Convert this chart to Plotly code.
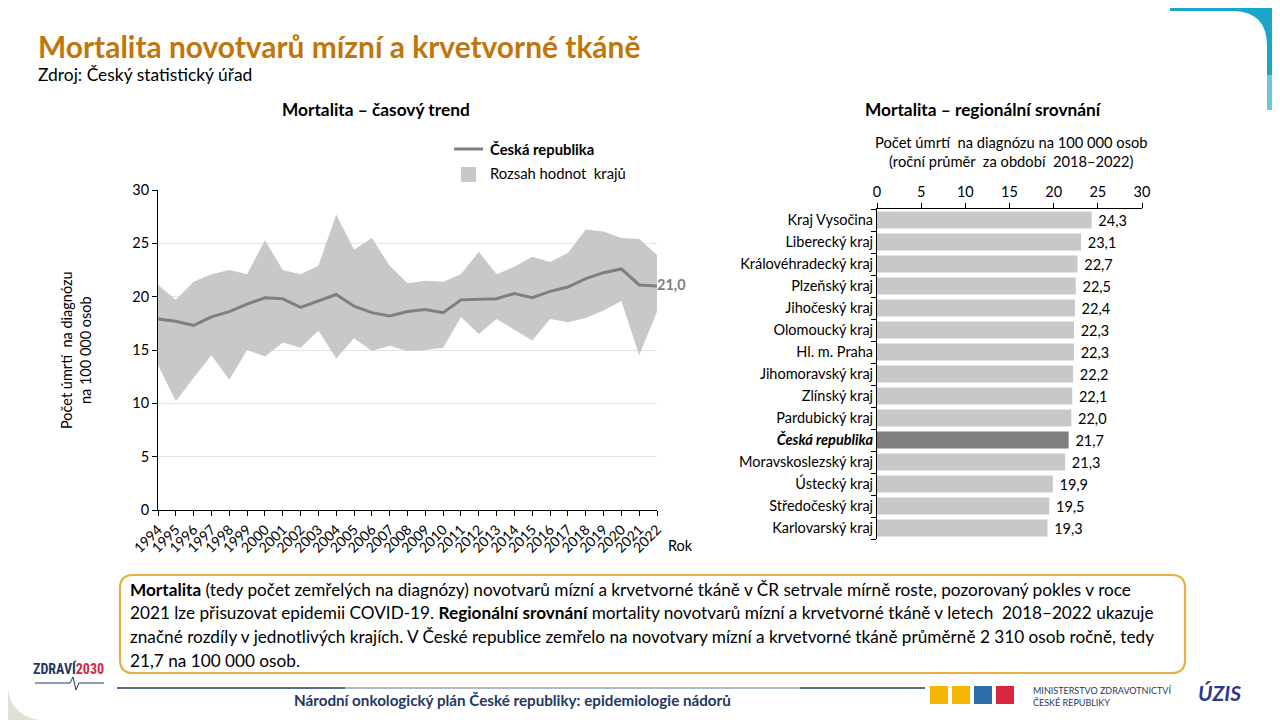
import plotly.graph_objects as go

# ---------------- data ----------------
years = list(range(1994, 2023))
cr_rate = [17.9, 17.7, 17.3, 18.1, 18.6, 19.3, 19.9, 19.8, 19.0, 19.6, 20.2, 19.1, 18.5, 18.2,
           18.6, 18.8, 18.5, 19.7, 19.75, 19.8, 20.3, 19.9, 20.5, 20.9, 21.7, 22.25, 22.6, 21.1, 21.0]
region_max = [21.1, 19.7, 21.4, 22.1, 22.5, 22.1, 25.3, 22.5, 22.1, 22.9, 27.7, 24.4, 25.5, 22.9,
              21.25, 21.5, 21.4, 22.1, 24.2, 22.1, 22.8, 23.75, 23.25, 24.1, 26.3, 26.1, 25.5, 25.4, 23.9]
region_min = [13.6, 10.2, 12.4, 14.5, 12.2, 15.0, 14.4, 15.7, 15.2, 16.8, 14.2, 16.1, 14.9, 15.4,
              14.9, 15.0, 15.2, 18.1, 16.5, 17.9, 16.9, 15.9, 17.9, 17.6, 18.0, 18.7, 19.6, 14.5, 18.6]

regions = ["Kraj Vysočina", "Liberecký kraj", "Královéhradecký kraj", "Plzeňský kraj",
           "Jihočeský kraj", "Olomoucký kraj", "Hl. m. Praha", "Jihomoravský kraj",
           "Zlínský kraj", "Pardubický kraj", "Česká republika", "Moravskoslezský kraj",
           "Ústecký kraj", "Středočeský kraj", "Karlovarský kraj"]
region_values = [24.3, 23.1, 22.7, 22.5, 22.4, 22.3, 22.3, 22.2, 22.1, 22.0, 21.7, 21.3, 19.9, 19.5, 19.3]

# the page body has an 8px margin, so the figure is drawn 8px in from the window edge
OFF = 8
W, H = 1280 - OFF, 720 - OFF
FONT = "Lato"


def px(x):
    return (x - OFF) / W


def py(y):
    return 1 - (y - OFF) / H


fig = go.Figure()

# ---------------- left chart: band + line ----------------
fig.add_trace(go.Scatter(x=years, y=region_min, mode="lines", line=dict(width=0, color="#C8C8C8"),
                         showlegend=False, hoverinfo="skip", xaxis="x", yaxis="y"))
fig.add_trace(go.Scatter(x=years, y=region_max, mode="lines", line=dict(width=0, color="#C8C8C8"),
                         fill="tonexty", fillcolor="#C8C8C8", name="Rozsah hodnot krajů",
                         showlegend=False, xaxis="x", yaxis="y"))
fig.add_trace(go.Scatter(x=years, y=cr_rate, mode="lines", line=dict(width=3, color="#7F7F7F"),
                         name="Česká republika", showlegend=False, xaxis="x", yaxis="y"))
fig.add_trace(go.Scatter(x=[years[-1]], y=[cr_rate[-1]], mode="text",
                         text=["<b>%s</b>" % f"{cr_rate[-1]:.1f}".replace(".", ",")],
                         textposition="middle right", textfont=dict(size=14.5, color="#7F7F7F", family=FONT),
                         showlegend=False, hoverinfo="skip", cliponaxis=False, xaxis="x", yaxis="y"))

# ---------------- right chart: bars ----------------
bar_colors = ["#7F7F7F" if r == "Česká republika" else "#C8C8C8" for r in regions]
fig.add_trace(go.Bar(x=region_values, y=regions, orientation="h", marker=dict(color=bar_colors, line=dict(width=0)),
                     width=0.78, texttemplate="\u00a0%{x:.1f}", textposition="outside",
                     textfont=dict(size=14.5, color="#000000", family=FONT), cliponaxis=False,
                     showlegend=False, xaxis="x2", yaxis="y2"))

ticktext = ["<b><i>%s</i></b>" % r if r == "Česká republika" else r for r in regions]

fig.update_layout(
    width=W, height=H,
    margin=dict(l=0, r=0, t=0, b=0, pad=0, autoexpand=False),
    paper_bgcolor="white", plot_bgcolor="white",
    separators=", ",
    font=dict(family=FONT, size=14, color="#000000"),
    xaxis=dict(domain=[px(158), px(657)], range=[1994, 2022], tickmode="array", tickvals=years,
               ticktext=[str(y) for y in years], tickangle=-45, showgrid=False, zeroline=False,
               showline=True, linecolor="#000000", linewidth=1, ticks="outside", ticklen=5,
               tickcolor="#000000", tickfont=dict(size=14, family=FONT), automargin=False),
    yaxis=dict(domain=[py(510), py(190)], range=[0, 30], dtick=5, showgrid=True, gridcolor="#E3E3E3",
               zeroline=False, showline=True, linecolor="#000000", linewidth=1, ticks="outside",
               ticklen=5, tickcolor="#000000", tickfont=dict(size=14.5, family=FONT), automargin=False),
    xaxis2=dict(domain=[px(877), px(1142)], range=[0, 30], dtick=5, side="top", anchor="y2",
                showgrid=False, zeroline=False, showline=True, linecolor="#000000", linewidth=1,
                ticks="outside", ticklen=5, tickcolor="#000000", tickfont=dict(size=14.5, family=FONT),
                automargin=False),
    yaxis2=dict(domain=[py(539), py(209)], autorange="reversed", anchor="x2", tickmode="array",
                tickvals=regions, ticktext=ticktext, showline=True, linecolor="#000000", linewidth=1,
                ticks="outside", ticklen=5, tickcolor="#000000", tickson="boundaries",
                showgrid=False, tickfont=dict(size=14.5, family=FONT), automargin=False),
    bargap=0.22,
)

shapes = []
ann = []

# slide decoration: top right teal corner
shapes.append(dict(type="rect", xref="paper", yref="paper", x0=px(1170), x1=1, y0=py(110), y1=py(0),
                   fillcolor="#19A7C9", line=dict(width=0), layer="below"))
shapes.append(dict(type="rect", xref="paper", yref="paper", x0=px(1170), x1=1, y0=py(110), y1=py(75),
                   fillcolor="#6CC6DE", line=dict(width=0), layer="below"))
shapes.append(dict(type="path", xref="paper", yref="paper",
                   path=f"M {px(1165)},{py(11)} L {px(1232)},{py(11)} Q {px(1267)},{py(11)} {px(1267)},{py(46)} "
                        f"L {px(1267)},{py(115)} L {px(1165)},{py(115)} Z",
                   fillcolor="white", line=dict(width=0), layer="below"))
# bottom-left corner tint
shapes.append(dict(type="path", xref="paper", yref="paper",
                   path=f"M {px(8)},{py(690)} Q {px(12)},{py(716)} {px(40)},{py(720)} L {px(8)},{py(720)} Z",
                   fillcolor="#DCE3D2", line=dict(width=0), layer="below"))

# title / subtitle
ann.append(dict(text="<b>Mortalita novotvarů mízní a krvetvorné tkáně</b>", x=px(36), y=py(46),
                xref="paper", yref="paper", xanchor="left", yanchor="middle", showarrow=False,
                font=dict(size=29.9, color="#C0760A", family=FONT)))
ann.append(dict(text="Zdroj: Český statistický úřad", x=px(36), y=py(74), xref="paper", yref="paper",
                xanchor="left", yanchor="middle", showarrow=False, font=dict(size=17.4, family=FONT)))

# chart titles
ann.append(dict(text="<b>Mortalita – časový trend</b>", x=px(376), y=py(110), xref="paper", yref="paper",
                xanchor="center", yanchor="middle", showarrow=False, font=dict(size=17.3, family=FONT)))
ann.append(dict(text="<b>Mortalita – regionální srovnání</b>", x=px(983), y=py(110), xref="paper", yref="paper",
                xanchor="center", yanchor="middle", showarrow=False, font=dict(size=17.3, family=FONT)))

# legend (left chart)
shapes.append(dict(type="line", xref="paper", yref="paper", x0=px(454), x1=px(483), y0=py(149), y1=py(149),
                   line=dict(color="#7F7F7F", width=3)))
shapes.append(dict(type="rect", xref="paper", yref="paper", x0=px(461), x1=px(476), y0=py(182), y1=py(167),
                   fillcolor="#C8C8C8", line=dict(width=0)))
ann.append(dict(text="<b>Česká republika</b>", x=px(488), y=py(149), xref="paper", yref="paper",
                xanchor="left", yanchor="middle", showarrow=False, font=dict(size=14.8, family=FONT)))
ann.append(dict(text="Rozsah hodnot  krajů", x=px(488), y=py(173), xref="paper", yref="paper",
                xanchor="left", yanchor="middle", showarrow=False, font=dict(size=14.8, family=FONT)))

# axis titles
ann.append(dict(text="Počet úmrtí  na diagnózu<br>na 100 000 osob", x=px(76), y=py(350), xref="paper",
                yref="paper", xanchor="center", yanchor="middle", textangle=-90, showarrow=False,
                font=dict(size=14.5, family=FONT)))
ann.append(dict(text="Rok", x=px(666), y=py(545), xref="paper", yref="paper", xanchor="left",
                yanchor="middle", showarrow=False, font=dict(size=14.5, family=FONT)))
ann.append(dict(text="Počet úmrtí  na diagnózu na 100 000 osob<br>(roční průměr  za období  2018–2022)",
                x=px(1011), y=py(151), xref="paper", yref="paper", xanchor="center", yanchor="middle",
                showarrow=False, font=dict(size=14.7, family=FONT)))

# text box
x0b, x1b, y0b, y1b, r = 120, 1185, 575, 673, 13
shapes.append(dict(type="path", xref="paper", yref="paper",
                   path=(f"M {px(x0b + r)},{py(y0b)} L {px(x1b - r)},{py(y0b)} "
                         f"Q {px(x1b)},{py(y0b)} {px(x1b)},{py(y0b + r)} L {px(x1b)},{py(y1b - r)} "
                         f"Q {px(x1b)},{py(y1b)} {px(x1b - r)},{py(y1b)} L {px(x0b + r)},{py(y1b)} "
                         f"Q {px(x0b)},{py(y1b)} {px(x0b)},{py(y1b - r)} L {px(x0b)},{py(y0b + r)} "
                         f"Q {px(x0b)},{py(y0b)} {px(x0b + r)},{py(y0b)} Z"),
                   fillcolor="white", line=dict(color="#E5B03F", width=2.2)))
lines = [
    "<b>Mortalita</b> (tedy počet zemřelých na diagnózy) novotvarů mízní a krvetvorné tkáně v ČR setrvale mírně roste, pozorovaný pokles v roce",
    "2021 lze přisuzovat epidemii COVID-19. <b>Regionální srovnání</b> mortality novotvarů mízní a krvetvorné tkáně v letech  2018–2022 ukazuje",
    "značné rozdíly v jednotlivých krajích. V České republice zemřelo na novotvary mízní a krvetvorné tkáně průměrně 2 310 osob ročně, tedy",
    "21,7 na 100 000 osob.",
]
for i, t in enumerate(lines):
    ann.append(dict(text=t, x=px(128), y=py(589 + i * 23.7), xref="paper", yref="paper", xanchor="left",
                    yanchor="middle", showarrow=False, font=dict(size=17.2, family=FONT)))

# footer
shapes.append(dict(type="line", xref="paper", yref="paper", x0=px(117), x1=px(345), y0=py(688), y1=py(688),
                   line=dict(color="#1F3864", width=1.5)))
shapes.append(dict(type="line", xref="paper", yref="paper", x0=px(345), x1=px(800), y0=py(688), y1=py(688),
                   line=dict(color="#8FA3BF", width=1.5)))
shapes.append(dict(type="line", xref="paper", yref="paper", x0=px(800), x1=px(925), y0=py(688), y1=py(688),
                   line=dict(color="#1F3864", width=1.5)))
ann.append(dict(text="<b>Národní onkologický plán České republiky: epidemiologie nádorů</b>", x=px(512),
                y=py(700), xref="paper", yref="paper", xanchor="center", yanchor="middle", showarrow=False,
                font=dict(size=15.2, color="#1F3864", family=FONT)))

# logos (approximate, as text/shapes)
ann.append(dict(text="<b><span style='color:#1F3864'>ZDRAVÍ</span><span style='color:#D7263D'>2030</span></b>",
                x=px(68), y=py(668), xref="paper", yref="paper", xanchor="center", yanchor="middle",
                showarrow=False, font=dict(size=14, family="Roboto Condensed, DejaVu Sans Condensed, " + FONT)))
shapes.append(dict(type="path", xref="paper", yref="paper",
                   path=(f"M {px(35)},{py(683)} L {px(70)},{py(683)} L {px(73)},{py(677)} L {px(76)},{py(690)} "
                         f"L {px(79)},{py(683)} L {px(104)},{py(683)}"),
                   line=dict(color="#1F3864", width=1)))
for x0, c in [(930, "#F5B400"), (952, "#F5B400"), (974, "#2F6FA7"), (996, "#D7263D")]:
    shapes.append(dict(type="rect", xref="paper", yref="paper", x0=px(x0), x1=px(x0 + 18), y0=py(704),
                       y1=py(686), fillcolor=c, line=dict(width=0)))
ann.append(dict(text="MINISTERSTVO ZDRAVOTNICTVÍ<br>ČESKÉ REPUBLIKY", x=px(1031), y=py(696), xref="paper",
                yref="paper", xanchor="left", yanchor="middle", align="left", showarrow=False,
                font=dict(size=9, color="#1F3864", family=FONT)))
ann.append(dict(text="<b><i>ÚZIS</i></b>", x=px(1219), y=py(692), xref="paper", yref="paper",
                xanchor="center", yanchor="middle", showarrow=False,
                font=dict(size=21, color="#2B3A8C", family=FONT)))

fig.update_layout(shapes=shapes, annotations=ann)
fig.write_html("out.html")
